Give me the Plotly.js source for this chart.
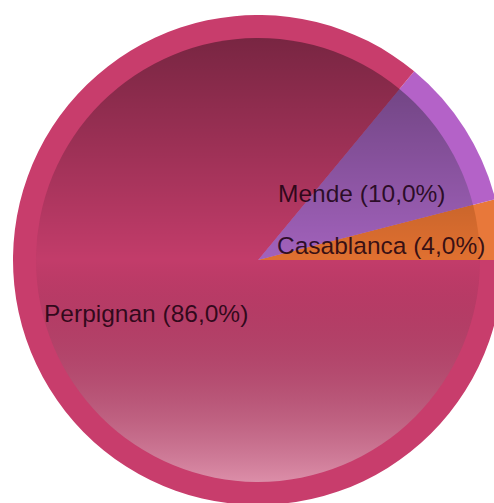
<!DOCTYPE html>
<html>
<head>
<meta charset="utf-8">
<script src="https://cdn.plot.ly/plotly-3.0.1.min.js"></script>
<style>
html,body{margin:0;padding:0;overflow:hidden;background:#fff;}
#chart{width:520px;height:520px;}
</style>
</head>
<body>
<div id="chart"></div>
<script>
var cities = ["Casablanca", "Mende", "Perpignan"];
var shares = [4, 10, 86];
var innerColors = ["#e07030", "#a262bc", "#c23c6a"];
var ringColors = ["#e8783a", "#b462c8", "#c83d6c"];

var W = 520, H = 520;
function px(x){ return x / W; }
function py(y){ return 1 - y / H; }

var total = shares.reduce(function(a,b){return a+b;}, 0);
function pct(v){ return (v / total * 100).toFixed(1).replace('.', ','); }
// first slice should begin at 3 o'clock and run counterclockwise
var rot = 90 - 360 * shares[0] / total;

var outer = {
  type: 'pie', labels: cities, values: shares, sort: false,
  direction: 'counterclockwise', rotation: rot,
  marker: {colors: ringColors, line: {width: 0}},
  textinfo: 'none', hoverinfo: 'none', showlegend: false,
  domain: {x: [px(13), px(503)], y: [py(505), py(15)]}
};
var inner = {
  type: 'pie', labels: cities, values: shares, sort: false,
  direction: 'counterclockwise', rotation: rot,
  marker: {colors: innerColors, line: {width: 0}},
  textinfo: 'none', hoverinfo: 'none', showlegend: false,
  domain: {x: [px(36), px(480)], y: [py(482), py(38)]}
};

var svg = '<svg xmlns="http://www.w3.org/2000/svg" width="100" height="100" viewBox="0 0 100 100">' +
  '<defs><linearGradient id="g" x1="0" y1="0" x2="0" y2="1">' +
  '<stop offset="0" stop-color="#000" stop-opacity="0.38"/>' +
  '<stop offset="0.5" stop-color="#000" stop-opacity="0"/>' +
  '<stop offset="1" stop-color="#fff" stop-opacity="0.42"/>' +
  '</linearGradient></defs>' +
  '<circle cx="50" cy="50" r="50" fill="url(#g)"/></svg>';
var src = 'data:image/svg+xml;charset=utf-8,' + encodeURIComponent(svg);

var labelPos = {
  "Mende": {x: 276, y: 193},
  "Casablanca": {x: 275, y: 245},
  "Perpignan": {x: 42, y: 313}
};
var annotations = cities.map(function(c, i){
  return {
    text: c + ' (' + pct(shares[i]) + '%)',
    x: px(labelPos[c].x), y: py(labelPos[c].y),
    xref: 'paper', yref: 'paper', xanchor: 'left', yanchor: 'middle',
    showarrow: false,
    font: {family: 'Liberation Sans, Arial, sans-serif', size: 24.5, color: 'rgba(25,0,15,0.85)'}
  };
});

var layout = {
  width: W, height: H,
  margin: {l: 0, r: 0, t: 0, b: 0},
  paper_bgcolor: '#ffffff',
  showlegend: false,
  annotations: annotations,
  images: [{
    source: src, xref: 'paper', yref: 'paper',
    x: px(36), y: py(38), sizex: px(480) - px(36), sizey: py(38) - py(482),
    xanchor: 'left', yanchor: 'top', sizing: 'stretch', layer: 'above'
  }]
};

Plotly.newPlot('chart', [outer, inner], layout, {staticPlot: true, displayModeBar: false});
</script>
</body>
</html>
